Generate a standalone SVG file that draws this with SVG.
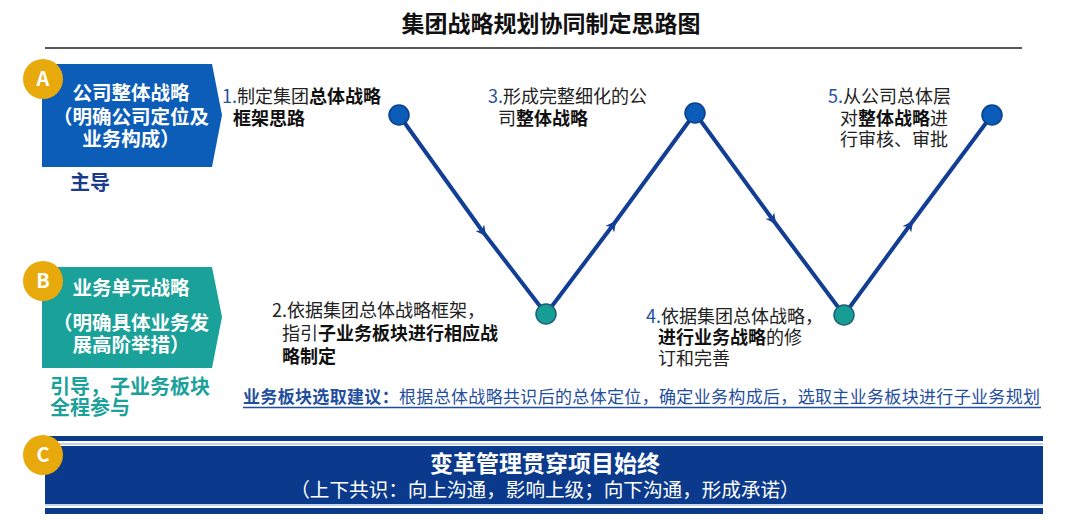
<svg xmlns="http://www.w3.org/2000/svg" width="1080" height="520" viewBox="0 0 1080 520">
<defs>
<style>
text{font-family:"Noto Sans CJK SC","Noto Sans",sans-serif;}
.title{font-size:23px;font-weight:bold;fill:#111;}
.nt{font-size:19.5px;font-weight:bold;fill:#fff;}
.badge{fill:#E8A90C;}
.bl{font-size:20px;font-weight:bold;fill:#fff;}
.st{font-size:18px;fill:#222;}
.num{fill:#2450A0;}
.b{font-weight:bold;fill:#111;}
.seg{fill:none;stroke:#123E94;stroke-width:4;stroke-linecap:round;}
.cb{fill:#0B5CB8;stroke:#0A3F8A;stroke-width:1.5;}
.ct{fill:#169E94;stroke:#1E5F7A;stroke-width:1.5;}
</style>
<marker id="arr" viewBox="0 0 12 12" refX="6" refY="6" markerWidth="13" markerHeight="13" markerUnits="userSpaceOnUse" orient="auto">
<path d="M1,1 L11,6 L1,11 L4,6 Z" fill="#123E94"/>
</marker>
</defs>
<rect width="1080" height="520" fill="#fff"/>
<g id="title">
<text class="title" x="551" y="32" text-anchor="middle">集团战略规划协同制定思路图</text>
<line x1="45" y1="48" x2="1022" y2="48" stroke="#222" stroke-width="1.5"/>
</g>
<g id="nodeA">
<polygon points="42,64 212,64 222,115 212,167 42,167" fill="#0C5DB8"/>
<circle class="badge" cx="43" cy="79" r="20"/>
<text class="bl" x="43" y="86" text-anchor="middle">A</text>
<text class="nt" x="131" y="100" text-anchor="middle">公司整体战略</text>
<text class="nt" x="131" y="124" text-anchor="middle">（明确公司定位及</text>
<text class="nt" x="131" y="146" text-anchor="middle">业务构成）</text>
<text x="70" y="190" font-size="20" font-weight="bold" fill="#1B3C8C">主导</text>
</g>
<g id="nodeB">
<polygon points="42,267 212,267 222,317 212,368 42,368" fill="#1AA199"/>
<circle class="badge" cx="43" cy="281" r="20"/>
<text class="bl" x="43" y="288" text-anchor="middle">B</text>
<text class="nt" x="131" y="295" text-anchor="middle">业务单元战略</text>
<text class="nt" x="131" y="330" text-anchor="middle">（明确具体业务发</text>
<text class="nt" x="131" y="352" text-anchor="middle">展高阶举措）</text>
<text x="50" y="394" font-size="20" font-weight="bold" fill="#1AA199">引导，子业务板块</text>
<text x="50" y="415" font-size="20" font-weight="bold" fill="#1AA199">全程参与</text>
</g>
<g id="connectors">
<path class="seg" d="M399,115 L483,232 L546,314" marker-mid="url(#arr)"/>
<path class="seg" d="M546,314 L613,225 L695,113" marker-mid="url(#arr)"/>
<path class="seg" d="M695,113 L773,220 L844,315" marker-mid="url(#arr)"/>
<path class="seg" d="M844,315 L910,225 L992,115" marker-mid="url(#arr)"/>
</g>
<g id="step1">
<circle class="cb" cx="399" cy="115" r="10"/>
<text class="st" x="222" y="103"><tspan class="num">1.</tspan>制定集团<tspan class="b">总体战略</tspan></text>
<text class="st b" x="233" y="125">框架思路</text>
</g>
<g id="step2">
<circle class="ct" cx="546" cy="314" r="10"/>
<text class="st" x="272" y="317">2.依据集团总体战略框架，</text>
<text class="st" x="282" y="340">指引<tspan class="b">子业务板块进行相应战</tspan></text>
<text class="st b" x="282" y="363">略制定</text>
</g>
<g id="step3">
<circle class="cb" cx="695" cy="113" r="10"/>
<text class="st" x="488" y="103"><tspan class="num">3.</tspan>形成完整细化的公</text>
<text class="st" x="498" y="125">司<tspan class="b">整体战略</tspan></text>
</g>
<g id="step4">
<circle class="ct" cx="844" cy="315" r="10"/>
<text class="st" x="646" y="323"><tspan class="num">4.</tspan>依据集团总体战略，</text>
<text class="st" x="658" y="344"><tspan class="b">进行业务战略</tspan>的修</text>
<text class="st" x="658" y="365">订和完善</text>
</g>
<g id="step5">
<circle class="cb" cx="992" cy="115" r="10"/>
<text class="st" x="828" y="103"><tspan class="num">5.</tspan>从公司总体层</text>
<text class="st" x="840" y="125">对<tspan class="b">整体战略</tspan>进</text>
<text class="st" x="840" y="146">行审核、审批</text>
</g>
<g id="note">
<text x="243" y="403" font-size="17" fill="#1F4E9E" textLength="797" lengthAdjust="spacing"><tspan font-weight="bold">业务板块选取建议：</tspan>根据总体战略共识后的总体定位，确定业务构成后，选取主业务板块进行子业务规划</text>
<line x1="243" y1="407.5" x2="1041" y2="407.5" stroke="#1F4E9E" stroke-width="1.5"/>
</g>
<g id="nodeC">
<rect x="45" y="436" width="998" height="5" fill="#0B3A8C"/>
<rect x="45" y="443" width="998" height="2" fill="#BFD4EE"/>
<rect x="45" y="446" width="998" height="58" fill="#0B3A8C"/>
<rect x="45" y="504" width="998" height="2" fill="#BFD4EE"/>
<rect x="45" y="508" width="998" height="6" fill="#0B3A8C"/>
<circle class="badge" cx="43" cy="455" r="20"/>
<text class="bl" x="43" y="462" text-anchor="middle">C</text>
<text x="545" y="472" text-anchor="middle" font-size="23" font-weight="bold" fill="#fff">变革管理贯穿项目始终</text>
<text x="545" y="497" text-anchor="middle" font-size="19.6" fill="#fff">（上下共识：向上沟通，影响上级；向下沟通，形成承诺）</text>
</g>
</svg>
